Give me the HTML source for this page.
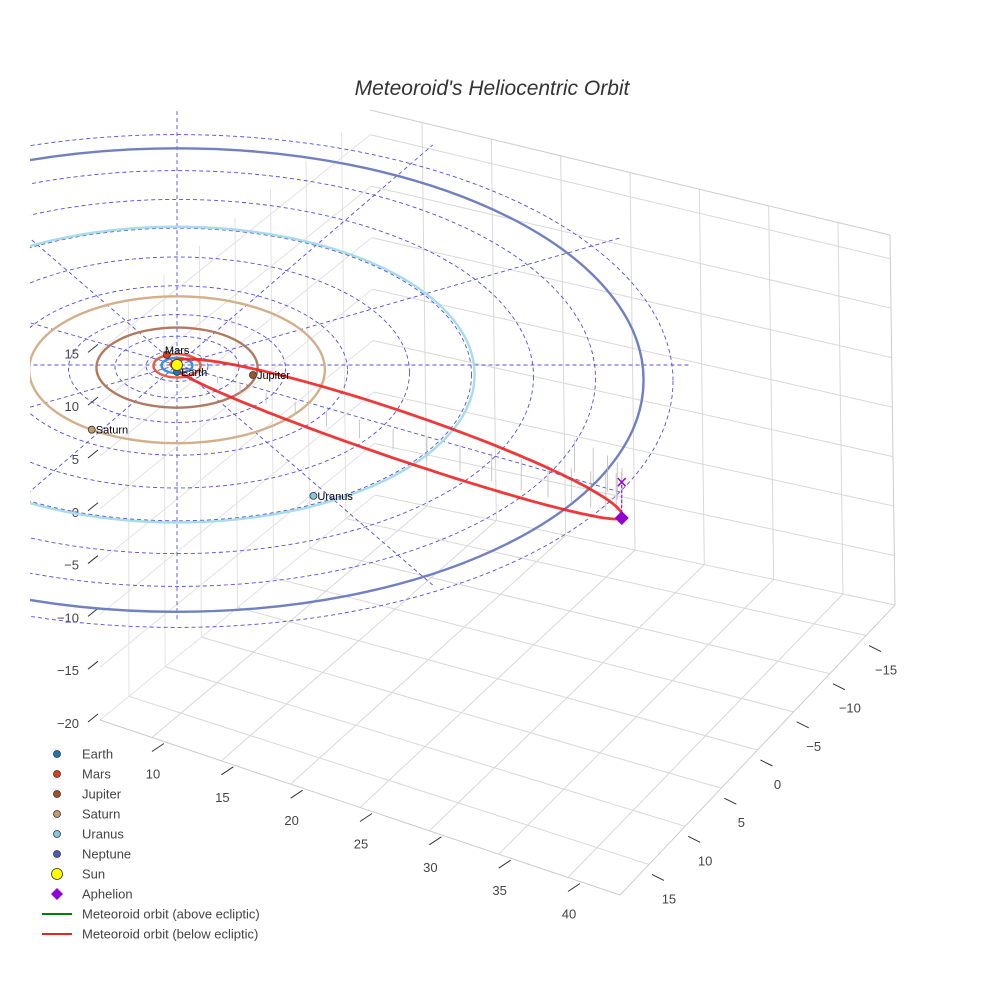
<!DOCTYPE html>
<html><head><meta charset="utf-8">
<style>
body{margin:0;background:#fff;}
svg{display:block;font-family:"Liberation Sans",sans-serif;}
</style></head>
<body>
<svg id="chart" width="984" height="984" viewBox="0 0 984 984">
<text x="492" y="95" text-anchor="middle" font-size="21" font-style="italic" fill="#333">Meteoroid's Heliocentric Orbit</text>
<defs><clipPath id="cp"><rect x="30" y="0" width="954" height="984"/></clipPath></defs>
<g id="box"></g>
<g id="ecl" clip-path="url(#cp)"></g>
<g id="legend"></g>
</svg>
<script>
// ---- data ----
const xTicks=[10,15,20,25,30,35,40];
const yTicks=[-15,-10,-5,0,5,10,15];
const zTicks=[-20,-15,-10,-5,0,5,10,15];
const planetNames=["Earth","Mars","Jupiter","Saturn","Uranus","Neptune"];
const planetRadii=[1,1.52,5.2,9.54,19.2,30.1];
const planetU=[0,-0.65,4.9,-5.5,8.8,null];
const planetV=[0.9,-1.3,1.3,8.4,17.0,null];
const planetColors=["#1f77b4","#d9401a","#a0522d","#c49a6c","#87c6dc","#4a5bb8"];
const orbitColors=["#3a8fd8","#e06040","#b07a60","#d2b08c","#a8dce8","#7080c0"];
const gridRadii=[2,4,7,11,15,19,23,27,32];
const gridAngles=[0,30,60,90,120,150];
const meteorQ=34.9, meteorQperi=0.45, meteorAngle=34.7, meteorInclPx=36;
const stemE=[2.4,2.55,2.7,2.85,3.0,3.15,3.3,3.45,3.6,3.75,3.9,4.05,4.2,4.35,4.5,4.65,4.8,4.95,5.1,5.25,5.4,5.55,5.7,5.85,6.0];

const NS="http://www.w3.org/2000/svg";
function mk(tag,attrs,parent){const e=document.createElementNS(NS,tag);for(const k in attrs)e.setAttribute(k,attrs[k]);parent.appendChild(e);return e;}

// ---- box projection ----
const A=[100,720],B=[620,895],C=[895,605],D=[375,495];
const HA=395,HD=385,HB=370,HC=370;
function floor(s,t){const x=(A[0]*(1-s)+B[0]*s)*(1-t)+(D[0]*(1-s)+C[0]*s)*t;const y=(A[1]*(1-s)+B[1]*s)*(1-t)+(D[1]*(1-s)+C[1]*s)*t;return [x,y];}
function P(s,t,h){const f=floor(s,t);const H=(HA*(1-s)+HB*s)*(1-t)+(HD*(1-s)+HC*s)*t;return [f[0]-5*h*t,f[1]-H*h];}
const sx=v=>(v-6.25)/37.5, ty=v=>(19-v)/38, hz=v=>(v+20)/37.4;
const box=document.getElementById('box');
function ln(p,q,st,w,name){const e=mk('line',{x1:p[0],y1:p[1],x2:q[0],y2:q[1],stroke:st,'stroke-width':w},box);return e;}
xTicks.forEach(v=>{const s=sx(v);ln(P(s,0,0),P(s,1,0),'#d8d8d8',1,'floor-grid-x');ln(P(s,1,0),P(s,1,1),'#d8d8d8',1,'wall-grid-x');
 const a=P(s,0,0);ln([a[0],a[1]+14],[a[0]+12,a[1]+6],'#333',1,'x-tick');
 const t=mk('text',{x:a[0]+1,y:a[1]+41,'font-size':13,fill:'#444','text-anchor':'middle'},box);t.textContent=v;
 });
yTicks.forEach(v=>{const t0=ty(v);ln(P(0,t0,0),P(1,t0,0),'#d8d8d8',1,'floor-grid-y');ln(P(0,t0,0),P(0,t0,1),'#e2e2e2',1,'wall-grid-y');
 const a=P(1,t0,0);ln([a[0]+3,a[1]+10],[a[0]+15,a[1]+16],'#333',1,'y-tick');
 const t=mk('text',{x:a[0]+20,y:a[1]+39,'font-size':13,fill:'#444','text-anchor':'middle'},box);t.textContent=String(v).replace('-','\u2212');
 });
zTicks.forEach(v=>{const h=hz(v);ln(P(0,1,h),P(1,1,h),'#d8d8d8',1,'wall-grid-z');ln(P(0,0,h),P(0,1,h),'#e2e2e2',1,'side-grid-z');
 const a=P(0,0,h);ln([a[0]-12,a[1]+2],[a[0]-2,a[1]-6],'#333',1,'z-tick');
 const t=mk('text',{x:a[0]-21,y:a[1]+8,'font-size':13,fill:'#444','text-anchor':'end'},box);t.textContent=String(v).replace('-','\u2212');
 });
ln(A,B,'#ccc',1,'box-edge');ln(B,C,'#ccc',1,'box-edge');ln(C,P(1,1,1),'#ccc',1,'box-edge');ln(P(0,1,1),P(1,1,1),'#ccc',1,'box-edge');

// ---- ecliptic projection ----
const SUN=[177,365],KX=15.5,KY=7.7;
const E=(u,v)=>[SUN[0]+KX*u,SUN[1]+KY*v];
const ecl=document.getElementById('ecl');
gridRadii.forEach(r=>{const e=mk('ellipse',{cx:SUN[0],cy:SUN[1]+0.5*r,rx:r*KX,ry:r*KY,fill:'none',stroke:'#5050e0','stroke-width':0.9,'stroke-dasharray':'4,3'},ecl);
 });
gridAngles.forEach(a=>{const rad=a*Math.PI/180,R=33;const p=E(R*Math.cos(rad),R*Math.sin(rad)),q=E(-R*Math.cos(rad),-R*Math.sin(rad));
 const e=mk('line',{x1:p[0],y1:p[1],x2:q[0],y2:q[1],stroke:'#5050e0','stroke-width':0.9,'stroke-dasharray':'4,3'},ecl);
 });
planetRadii.forEach((r,i)=>{const e=mk('ellipse',{cx:SUN[0],cy:SUN[1]+0.5*r,rx:r*KX,ry:r*KY,fill:'none',stroke:orbitColors[i],'stroke-width':2.4},ecl);
 });
// meteoroid orbit
const ang=meteorAngle*Math.PI/180,a=(meteorQ+meteorQperi)/2,ec=(meteorQ-meteorQperi)/(meteorQ+meteorQperi),b=a*Math.sqrt(1-ec*ec);
function orb(Ea){const x=a*(Math.cos(Ea)-ec),y=b*Math.sin(Ea);const u=-x*Math.cos(ang)+y*Math.sin(ang)*0.5,v=-x*Math.sin(ang)-y*Math.cos(ang)*(y<0?0.5:1.0);
 const p=E(u,v);const frac=(1-Math.cos(Ea))/2;return [p[0],p[1],frac];}
stemE.forEach(Ea=>{const p=orb(Ea);const L=meteorInclPx*p[2];
 const e=mk('line',{x1:p[0],y1:p[1]-L-10,x2:p[0],y2:p[1]-8,stroke:'#bbb','stroke-width':0.8},ecl);
 });
let d='';for(let k=0;k<=200;k++){const p=orb(k/200*2*Math.PI);d+=(k?'L':'M')+p[0].toFixed(1)+','+p[1].toFixed(1);}
const mo=mk('path',{d:d,fill:'none',stroke:'#ee2222','stroke-width':2.8,'stroke-opacity':0.9},ecl);

const ap=orb(Math.PI);
const ad=mk('line',{x1:ap[0],y1:ap[1],x2:ap[0],y2:ap[1]-meteorInclPx,stroke:'#9400d3','stroke-width':1,'stroke-dasharray':'3,2'},ecl);

const ax=mk('text',{x:ap[0],y:ap[1]-meteorInclPx+7,'font-size':20,fill:'#9400d3','text-anchor':'middle'},ecl);ax.textContent='×';

const dm=mk('path',{d:`M${ap[0]},${ap[1]-7}L${ap[0]+7},${ap[1]}L${ap[0]},${ap[1]+7}L${ap[0]-7},${ap[1]}Z`,fill:'#9400d3'},ecl);

// planets
planetNames.forEach((n,i)=>{if(planetU[i]===null)return;const p=E(planetU[i],planetV[i]);
 const c=mk('circle',{cx:p[0],cy:p[1],r:3.5,fill:planetColors[i],stroke:'#333','stroke-width':0.8},ecl);
 
 const t=mk('text',{x:p[0]+(i==1?-2:4),y:p[1]+(i==1?-1:4),'font-size':11,fill:'#000'},ecl);t.textContent=n;
 });
const sun=mk('circle',{cx:SUN[0],cy:SUN[1],r:5.5,fill:'#ffff00',stroke:'#333','stroke-width':0.8},ecl);


// ---- legend ----
const lg=document.getElementById('legend');
const legItems=[["Earth","c","#1f77b4"],["Mars","c","#d9401a"],["Jupiter","c","#a0522d"],["Saturn","c","#c49a6c"],["Uranus","c","#87c6dc"],["Neptune","c","#4a5bb8"],["Sun","s","#ffff00"],["Aphelion","d","#9400d3"],["Meteoroid orbit (above ecliptic)","l","green"],["Meteoroid orbit (below ecliptic)","l","#ee2222"]];
legItems.forEach((it,i)=>{const y=754+i*20;const g=mk('g',{},lg);
 
 
 if(it[1]=='c')mk('circle',{cx:57,cy:y,r:3.5,fill:it[2],stroke:'#333','stroke-width':0.8},g);
 else if(it[1]=='s')mk('circle',{cx:57,cy:y,r:5.5,fill:it[2],stroke:'#333','stroke-width':0.8},g);
 else if(it[1]=='d')mk('path',{d:`M57,${y-6}L63,${y}L57,${y+6}L51,${y}Z`,fill:it[2]},g);
 else mk('line',{x1:42,y1:y,x2:72,y2:y,stroke:it[2],'stroke-width':2},g);
 const t=mk('text',{x:82,y:y+4.5,'font-size':13,fill:'#444'},g);t.textContent=it[0];});
</script>
</body></html>
